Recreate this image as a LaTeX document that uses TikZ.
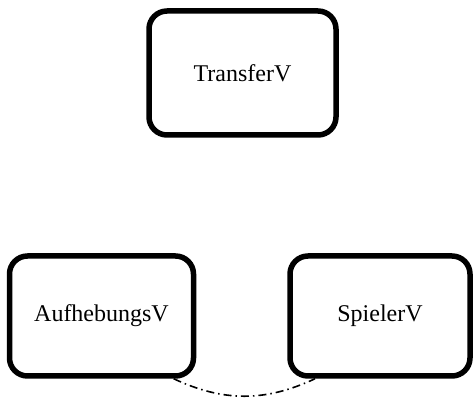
\documentclass[tikz,border=0pt]{standalone}
\usepackage{fontspec}
\setmainfont{Liberation Serif}
\begin{document}
\begin{tikzpicture}[x=1pt,y=1pt,
  vbox/.style={draw=black, line width=5.5pt, rounded corners=18pt, fill=white,
    inner sep=0pt, font=\fontsize{24}{28}\selectfont},
  link/.style={line width=1.6pt, dash pattern=on 8pt off 4pt on 1.5pt off 4pt}]
\useasboundingbox (0,0) rectangle (474,401);
\node[vbox, minimum width=187pt, minimum height=124pt] (t) at (242.5,328) {TransferV};
\node[vbox, minimum width=184pt, minimum height=120pt] (a) at (101.5,85) {AufhebungsV};
\node[vbox, minimum width=180pt, minimum height=120pt] (s) at (380,85) {SpielerV};
\draw[link] (a.-41) to[bend right=25] (s.-136.5);
\end{tikzpicture}
\end{document}
